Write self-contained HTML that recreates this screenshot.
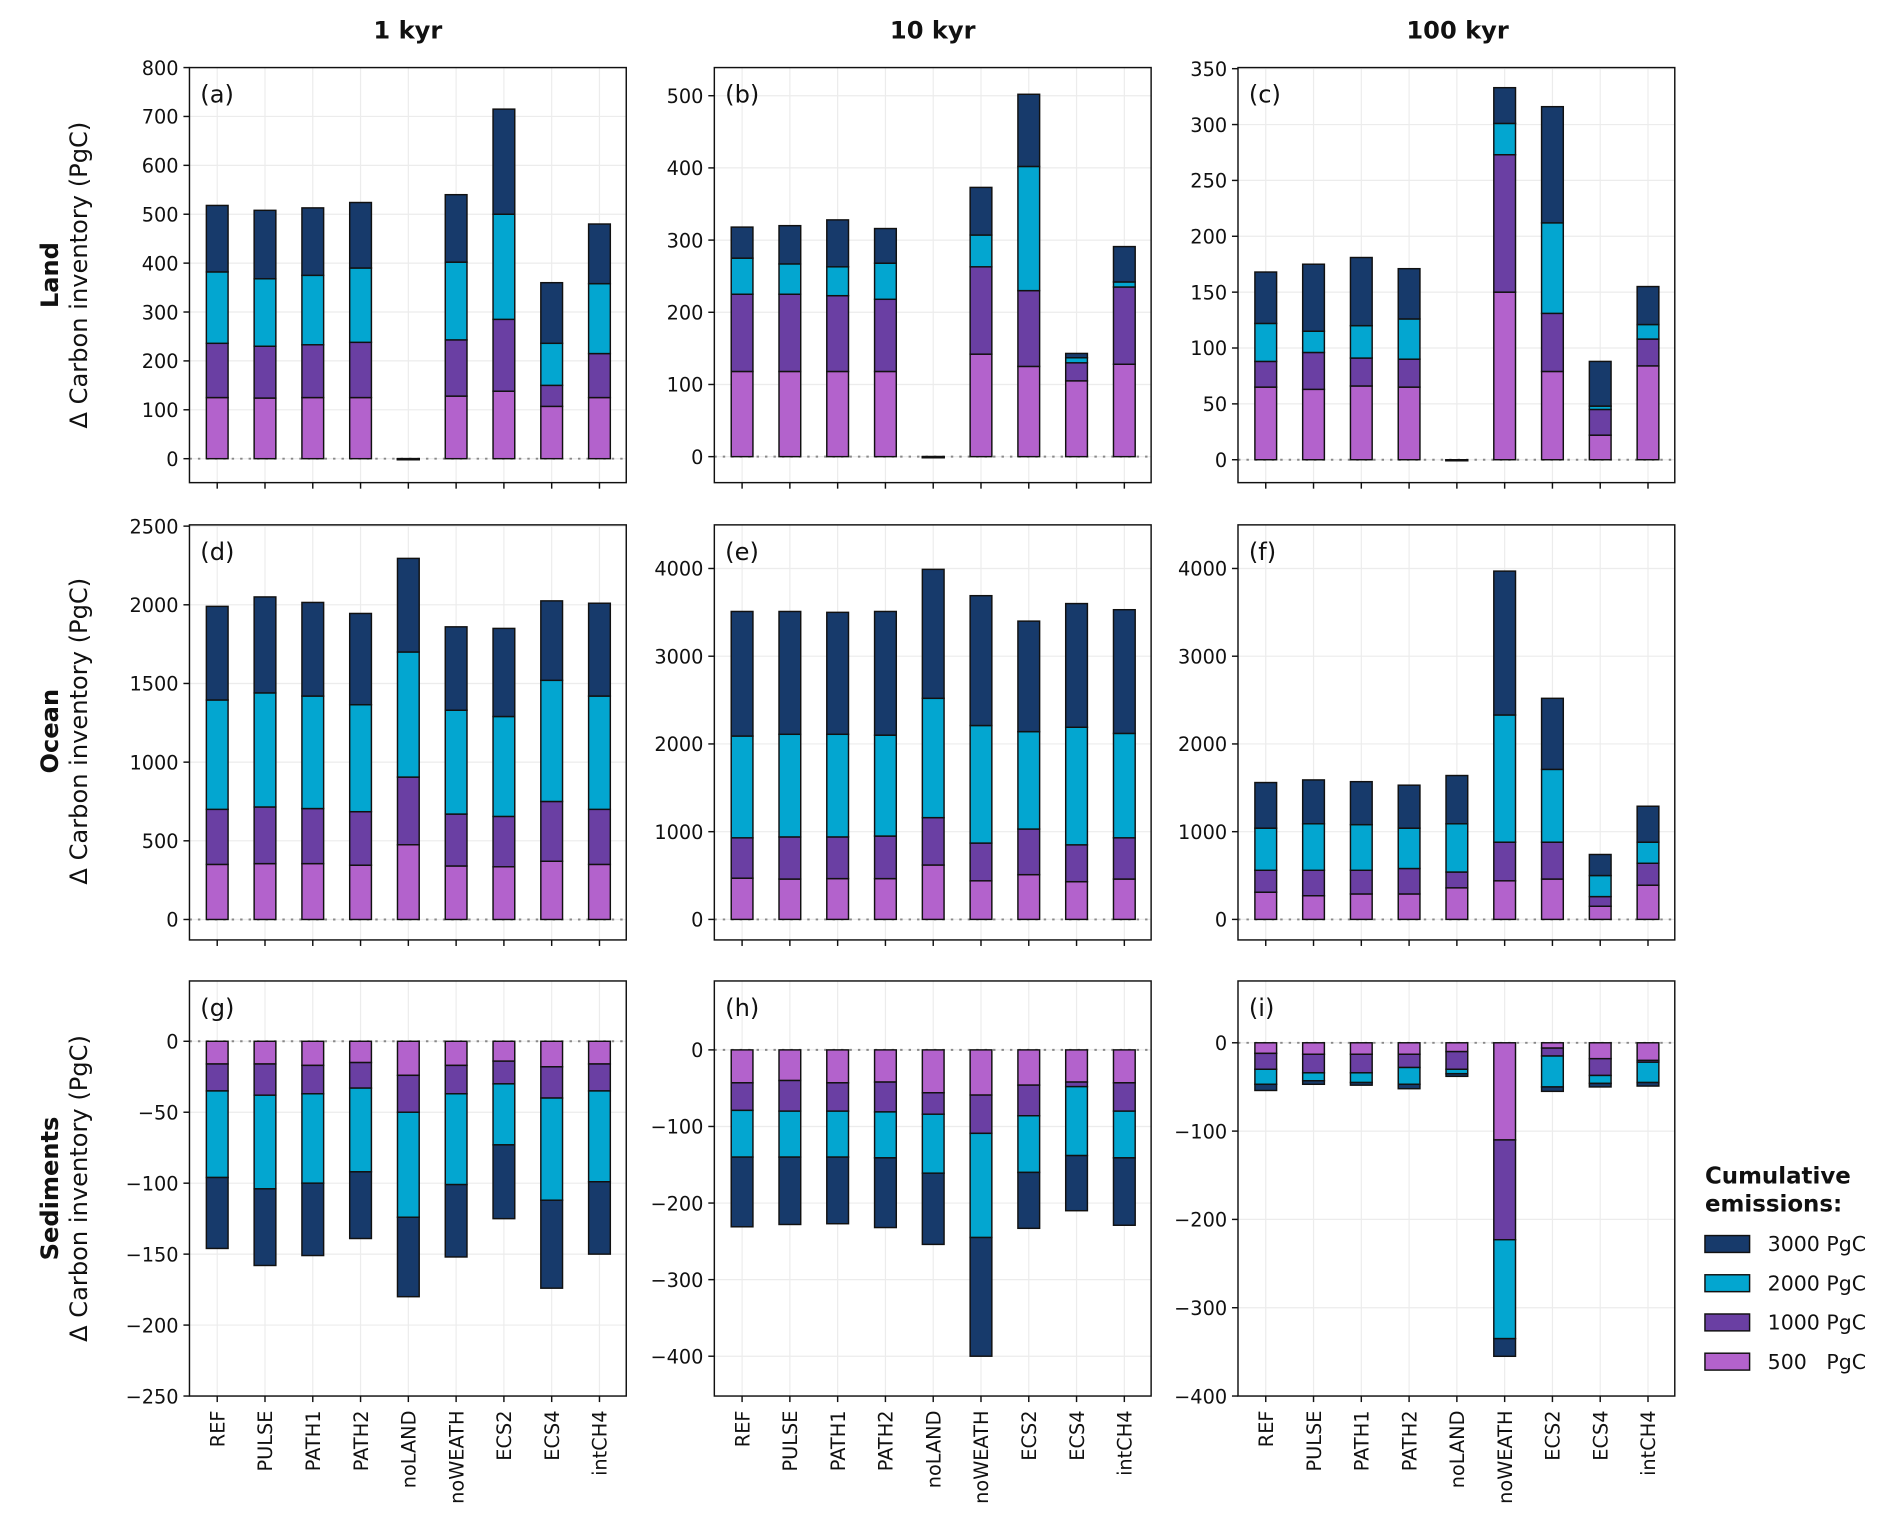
<!DOCTYPE html>
<html><head><meta charset="utf-8"><style>
html,body{margin:0;padding:0;background:#fff}
svg{display:block}
text{font-family:"DejaVu Sans","Liberation Sans",sans-serif;fill:#111}
</style></head><body>
<svg id="fig" width="1892" height="1536" viewBox="0 0 1568 1273" xmlns="http://www.w3.org/2000/svg"></svg>
<script>
const categories = ["REF","PULSE","PATH1","PATH2","noLAND","noWEATH","ECS2","ECS4","intCH4"];
const seriesNames = ["500   PgC","1000 PgC","2000 PgC","3000 PgC"];
const colors = ["#b362cc","#6a3fa3","#03a6d0","#173a6b"];
// cumulative stack tops [500,1000,2000,3000] per category
const landA = [[125,236,382,518],[124,230,368,508],[125,233,375,513],[125,238,390,524],[0,0,0,0],[128,243,402,540],[138,285,500,715],[107,150,236,360],[125,215,358,480]];
const landB = [[118,225,275,318],[118,225,267,320],[118,223,263,328],[118,218,268,316],[0,0,0,0],[142,263,307,373],[125,230,402,502],[105,130,137,143],[128,235,242,291]];
const landC = [[65,88,122,168],[63,96,115,175],[66,91,120,181],[65,90,126,171],[0,0,0,0],[150,273,301,333],[79,131,212,316],[22,45,48,88],[84,108,121,155]];
const oceanD = [[350,700,1395,1990],[355,715,1440,2050],[355,705,1420,2015],[345,685,1365,1945],[475,905,1700,2295],[340,670,1330,1860],[335,655,1290,1850],[370,750,1520,2025],[350,700,1420,2010]];
const oceanE = [[470,930,2090,3510],[460,940,2110,3510],[465,940,2110,3500],[465,950,2100,3510],[620,1160,2520,3990],[440,870,2210,3690],[510,1030,2140,3400],[430,850,2190,3600],[460,930,2120,3530]];
const oceanF = [[310,560,1040,1560],[270,560,1090,1590],[290,560,1080,1570],[290,580,1040,1530],[360,540,1090,1640],[440,880,2330,3970],[460,880,1710,2520],[150,260,500,740],[390,640,880,1290]];
const sedG = [[-16,-35,-96,-146],[-16,-38,-104,-158],[-17,-37,-100,-151],[-15,-33,-92,-139],[-24,-50,-124,-180],[-17,-37,-101,-152],[-14,-30,-73,-125],[-18,-40,-112,-174],[-16,-35,-99,-150]];
const sedH = [[-43,-79,-140,-231],[-40,-80,-140,-228],[-43,-80,-140,-227],[-42,-81,-141,-232],[-56,-84,-161,-254],[-59,-109,-245,-400],[-46,-86,-160,-233],[-42,-48,-138,-210],[-43,-80,-141,-229]];
const sedI = [[-12,-30,-47,-54],[-13,-34,-43,-47],[-13,-34,-45,-48],[-13,-28,-47,-52],[-10,-30,-35,-38],[-110,-223,-335,-355],[-6,-15,-50,-55],[-18,-37,-46,-50],[-20,-22,-45,-49]];
const ticksA=[0,100,200,300,400,500,600,700,800];
const ticksB=[0,100,200,300,400,500];
const ticksC=[0,50,100,150,200,250,300,350];
const ticksD=[0,500,1000,1500,2000,2500];
const ticksE=[0,1000,2000,3000,4000];
const ticksG=[-250,-200,-150,-100,-50,0];
const ticksH=[-400,-300,-200,-100,0];

const NS="http://www.w3.org/2000/svg";
const svg=document.getElementById('fig');
function mk(tag,attrs,parent){const e=document.createElementNS(NS,tag);for(const k in attrs)e.setAttribute(k,attrs[k]);(parent||svg).appendChild(e);return e;}

const colX=[157,592,1026], W=362;
const rowY=[56,435,813], H=344;
const panels=[
 {id:'a',c:0,r:0,d:landA,lim:[-49,800],t:ticksA},
 {id:'b',c:1,r:0,d:landB,lim:[-36,539],t:ticksB},
 {id:'c',c:2,r:0,d:landC,lim:[-20.5,351],t:ticksC},
 {id:'d',c:0,r:1,d:oceanD,lim:[-130,2508],t:ticksD},
 {id:'e',c:1,r:1,d:oceanE,lim:[-234,4497],t:ticksE},
 {id:'f',c:2,r:1,d:oceanF,lim:[-234,4497],t:ticksE},
 {id:'g',c:0,r:2,d:sedG,lim:[-250,42.5],t:ticksG},
 {id:'h',c:1,r:2,d:sedH,lim:[-452,90],t:ticksH},
 {id:'i',c:2,r:2,d:sedI,lim:[-400,70],t:ticksH}
];
panels.forEach(p=>{
  const x0=colX[p.c], y0=rowY[p.r];
  const g=mk('g',{});
  
  
  const yS=v=>y0+H-(v-p.lim[0])/(p.lim[1]-p.lim[0])*H;
  const xS=i=>x0+23+i*39.6;
  mk('rect',{x:x0,y:y0,width:W,height:H,fill:'#fff'},g);
  p.t.forEach(t=>{
    mk('line',{x1:x0,x2:x0+W,y1:yS(t),y2:yS(t),stroke:'#ececec','stroke-width':1},g);
    mk('line',{x1:x0-5,x2:x0,y1:yS(t),y2:yS(t),stroke:'#111','stroke-width':1.2},g);
    const tl=mk('text',{x:x0-9,y:yS(t)+6,'text-anchor':'end','font-size':16},g);
    tl.textContent=String(t).replace('-','\u2212');
    
    
  });
  categories.forEach((c,i)=>{
    mk('line',{x1:xS(i),x2:xS(i),y1:y0,y2:y0+H,stroke:'#ececec','stroke-width':1},g);
    mk('line',{x1:xS(i),x2:xS(i),y1:y0+H,y2:y0+H+5,stroke:'#111','stroke-width':1.2},g);
    if(p.r===2){
      const tx=mk('text',{transform:`translate(${xS(i)+6},${y0+H+12}) rotate(-90)`,'text-anchor':'end','font-size':16},g);
      tx.textContent=c;
      
      
    }
  });
  mk('line',{x1:x0,x2:x0+W,y1:yS(0),y2:yS(0),stroke:'#888','stroke-width':1.6,'stroke-dasharray':'2,5'},g);
  p.d.forEach((vals,i)=>{
    let prev=0;
    vals.forEach((v,k)=>{
      const a=yS(prev), b=yS(v);
      const r=mk('rect',{x:xS(i)-9,y:Math.min(a,b),width:18,height:Math.max(Math.abs(a-b),0.8),fill:colors[k],stroke:'#111','stroke-width':1.2},g);
      
      
      prev=v;
    });
  });
  mk('rect',{x:x0,y:y0,width:W,height:H,fill:'none',stroke:'#111','stroke-width':1.2},g);
  const pl=mk('text',{x:x0+9,y:y0+29,'font-size':20},g);
  pl.textContent='('+p.id+')';
  
  
});
[['1 kyr',338],['10 kyr',773],['100 kyr',1208]].forEach(([t,x])=>{
  const e=mk('text',{x:x,y:32,'text-anchor':'middle','font-size':20,'font-weight':'bold'});
  e.textContent=t;
  
  
});
[['Land',228],['Ocean',606],['Sediments',985]].forEach(([t,y])=>{
  const e=mk('text',{transform:`translate(48,${y}) rotate(-90)`,'text-anchor':'middle','font-size':20,'font-weight':'bold'});
  e.textContent=t;
  
  
  const f=mk('text',{transform:`translate(72,${y}) rotate(-90)`,'text-anchor':'middle','font-size':20});
  f.textContent='Δ Carbon inventory (PgC)';
  
  
});
const lg=mk('g',{});


const l1=mk('text',{x:1413,y:981,'font-size':19,'font-weight':'bold'},lg);l1.textContent='Cumulative';
const l2=mk('text',{x:1413,y:1004,'font-size':19,'font-weight':'bold'},lg);l2.textContent='emissions:';
[3,2,1,0].forEach((k,j)=>{
  const y=1031+j*32.5;
  const r=mk('rect',{x:1413,y:y-7,width:37,height:14,fill:colors[k],stroke:'#111','stroke-width':1.2},lg);
  
  
  const t=mk('text',{x:1465,y:y+6,'font-size':17,'xml:space':'preserve'},lg);
  t.setAttribute('style','white-space:pre');
  t.textContent=seriesNames[k];
  
  
});
</script>
</body></html>
